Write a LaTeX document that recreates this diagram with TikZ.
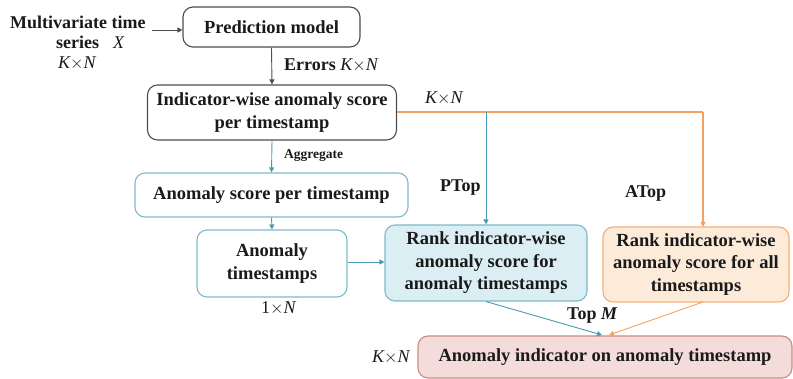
\documentclass[tikz,border=0pt]{standalone}
\usepackage{fontspec}
\setmainfont{Liberation Serif}
\usetikzlibrary{arrows.meta}
\definecolor{txt}{HTML}{1A1A1A}
\definecolor{gline}{HTML}{4D4D4D}
\definecolor{tealc}{HTML}{4A9BB2}
\definecolor{tealb}{HTML}{7DBACB}
\definecolor{tealf}{HTML}{DAEEF4}
\definecolor{orc}{HTML}{F4A261}
\definecolor{orb}{HTML}{F5B07A}
\definecolor{orf}{HTML}{FDEBDA}
\definecolor{pkb}{HTML}{C98B84}
\definecolor{pkf}{HTML}{F3DCDA}
\tikzset{
  box/.style={draw, rounded corners=10pt, line width=1.1pt, align=center, inner sep=0pt,
    font=\fontsize{18.5}{22.5}\selectfont\bfseries, text=txt},
  lbl/.style={inner sep=0pt, text=txt, font=\fontsize{18}{22}\selectfont},
  blbl/.style={inner sep=0pt, text=txt, font=\fontsize{18}{22}\selectfont\bfseries},
  tip/.style={-{Triangle[length=5pt,width=5pt]}, line width=0.9pt}
}
\begin{document}
\begin{tikzpicture}[x=1pt,y=-1pt]
\useasboundingbox (0,0) rectangle (793,379);
% boxes
\node[box, draw=gline, minimum width=177pt, minimum height=40pt] (pred) at (271.5,27) {Prediction model};
\node[box, draw=gline, minimum width=249pt, minimum height=55pt] (ind) at (272,112.5) {Indicator-wise anomaly score\\per timestamp};
\node[box, draw=tealb, minimum width=273pt, minimum height=44pt] (asc) at (271.5,195) {Anomaly score per timestamp};
\node[box, draw=tealb, minimum width=150pt, minimum height=67pt] (ats) at (272,263.5) {Anomaly\\timestamps};
\node[box, draw=tealb, fill=tealf, minimum width=202pt, minimum height=76pt] (rp) at (486,263) {Rank indicator-wise\\anomaly score for\\anomaly timestamps};
\node[box, draw=orb, fill=orf, minimum width=186pt, minimum height=75pt] (ra) at (696,264.5) {Rank indicator-wise\\anomaly score for all\\timestamps};
\node[box, draw=pkb, fill=pkf, minimum width=374pt, minimum height=42pt] (bot) at (605,357) {Anomaly indicator on anomaly timestamp};
% texts
\node[blbl, anchor=north west, align=left, font=\fontsize{18}{20}\selectfont\bfseries] (mv) at (10,16)
  {Multivariate time\\\hspace*{46pt}series\hspace{14pt}{\normalfont\itshape X}\\\hspace*{48pt}{\normalfont\itshape K$\times$N}};
\node[blbl, anchor=west] (err) at (284,65) {Errors \normalfont\itshape K$\times$N};
\node[blbl, anchor=west, font=\fontsize{13.5}{16}\selectfont\bfseries] (agg) at (284,156) {Aggregate};
\node[lbl, anchor=west] (kn1) at (425,98) {\itshape K$\times$N};
\node[blbl, anchor=west] (ptop) at (440,188) {PTop};
\node[blbl, anchor=west] (atop) at (625,193) {ATop};
\node[lbl, anchor=west] (one) at (261,308) {1$\times$\itshape N};
\node[blbl, anchor=west] (topm) at (567,316) {Top \itshape M};
\node[lbl, anchor=west] (kn2) at (372,357) {\itshape K$\times$N};
% coordinates
\coordinate (c1) at (486,112);
\coordinate (c2) at (703,112);
\coordinate (c3) at (703,227);
\coordinate (c4) at (703,302);
\coordinate (t1) at (602,335);
\coordinate (t2) at (609,335);
\coordinate (mvout) at (152,30);
% connectors
\draw[tip, gline] (mvout) -- (mvout -| pred.west);
\draw[tip, gline] (pred.south) -- (ind.north);
\draw[line width=1.1pt, orc] (ind.east |- c1) -- (c2);
\draw[tip, orc, line width=1.1pt] (c2) -- (c3);
\draw[tip, tealc] (c1) -- (rp.north);
\draw[tip, tealc] (ind.south) -- (asc.north);
\draw[tip, tealc] (asc.south) -- (ats.north);
\draw[tip, tealc] (ats.east |- 0,262) -- (rp.west |- 0,262);
\draw[tip, tealc] (rp.south) -- (t1);
\draw[tip, orc] (c4) -- (t2);
\end{tikzpicture}
\end{document}
